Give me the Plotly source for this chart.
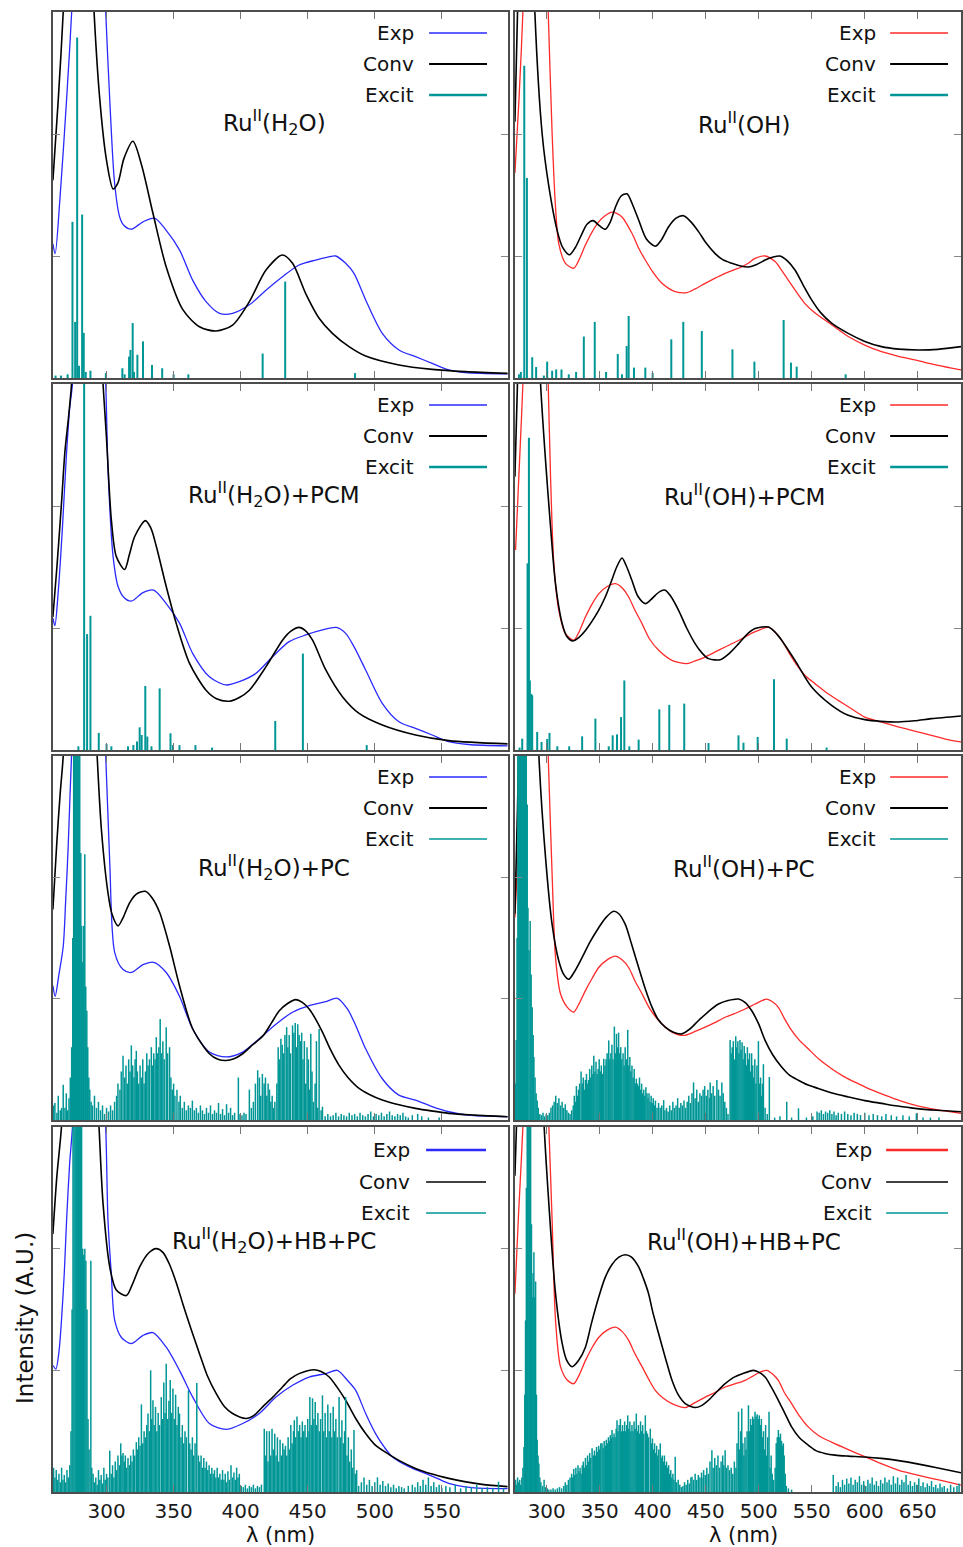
import plotly.graph_objects as go

# ------------------------------------------------------------------ data
# (wavelength nm, normalised intensity)

# --- Ru(II)(H2O)
conv_h2o = [(260,1.62),(264,2.28),(267.7,3.0),(271,4.0),(279,5.2),(287,4.0),(290.7,3.0),(295,2.28),(299.9,1.79),(304.9,1.55),(308.5,1.6),(313,1.8),(319.7,1.94),(326,1.75),(334.6,1.35),(344.5,0.91),(356.9,0.56),(369.3,0.42),(381.7,0.385),(394,0.434),(406.5,0.626),(418.9,0.885),(431.2,1.008),(438.7,0.94),(448.6,0.69),(458.5,0.49),(468.4,0.366),(480.8,0.257),(493.2,0.18),(518,0.107),(542.8,0.071),(567.6,0.052),(599,0.038)]
exp_h2o = [(260,1.10),(261.7,1.02),(265.2,1.46),(270.2,2.28),(274,3.0),(280,4.6),(288,5.0),(295,4.2),(299.4,3.0),(302.4,2.28),(306,1.6),(309.8,1.32),(313,1.25),(318.5,1.22),(327.2,1.28),(335.8,1.31),(344.5,1.21),(354.4,1.05),(364.3,0.80),(374.2,0.626),(384.2,0.53),(394,0.53),(406.5,0.60),(418.9,0.72),(431.2,0.83),(443.6,0.926),(456,0.967),(465,0.99),(470.9,1.0),(478.3,0.94),(484.5,0.858),(493.2,0.64),(505.6,0.366),(518,0.23),(530.4,0.175),(542.8,0.12),(555.2,0.066),(567.6,0.044),(599,0.033)]
exc_h2o = [(262,0.02),(266,0.02),(271,0.03),(274.6,1.28),(276.6,0.46),(278.1,2.79),(279.5,0.1),(281.8,1.34),(283,0.37),(284.5,0.05),(288,0.06),(299.5,0.04),(311.8,0.08),(313.5,0.03),(316.8,0.175),(317.8,0.23),(319.5,0.45),(320.5,0.05),(323,0.19),(327.2,0.30),(333.9,0.107),(341.5,0.08),(350,0.03),(361,0.03),(416.4,0.20),(433.2,0.79),(485.3,0.04)]

# --- Ru(II)(OH)
conv_oh = [(270,2.1),(273,3.2),(280,4.8),(286,4.0),(288.8,3.0),(295.7,2.0),(302,1.57),(309.8,1.21),(315,1.07),(321.5,1.01),(327,1.07),(333.4,1.186),(338,1.26),(343.7,1.29),(349.5,1.25),(355.3,1.22),(360,1.28),(364.8,1.40),(370,1.49),(375.7,1.51),(381,1.42),(386.7,1.295),(394,1.14),(402.4,1.08),(408,1.13),(415,1.24),(422,1.31),(429.1,1.33),(436,1.28),(443.2,1.20),(450,1.11),(458.9,1.02),(466,0.97),(474.6,0.94),(482,0.92),(490.3,0.91),(498,0.93),(506,0.967),(513,0.99),(520,1.0),(527,0.96),(534.2,0.885),(542,0.76),(549.9,0.64),(558,0.54),(568.7,0.45),(584.4,0.366),(600.1,0.30),(615.8,0.257),(632,0.237),(650.3,0.23),(669,0.235),(690.8,0.257)]
exp_oh = [(270,1.68),(273.8,2.28),(277.5,3.0),(282,4.5),(290,5.0),(297,4.2),(301.4,3.0),(305.1,2.0),(308.3,1.40),(311.4,1.10),(317.7,0.94),(325.5,0.90),(330,0.96),(336.5,1.09),(343,1.2),(349,1.28),(355,1.33),(361.6,1.36),(366,1.35),(371,1.32),(380.4,1.186),(387,1.06),(393,0.967),(400,0.87),(408.7,0.776),(415,0.735),(421.2,0.708),(432.2,0.70),(440,0.73),(449.5,0.776),(458,0.815),(468.3,0.858),(476,0.885),(484,0.91),(490,0.94),(496.5,0.98),(506,1.0),(515.4,0.954),(521,0.89),(528,0.80),(536,0.70),(543.6,0.61),(552,0.54),(562.4,0.475),(573,0.41),(584.4,0.34),(600,0.27),(615.8,0.216),(631,0.18),(647.2,0.148),(668,0.105),(690.8,0.066)]
exc_oh = [(273.8,0.03),(275.6,0.05),(278.8,2.56),(281.3,1.64),(286.3,0.17),(290,0.09),(297.3,0.02),(300.4,0.134),(305.1,0.06),(308.9,0.07),(313.9,0.07),(320.8,0.03),(327.7,0.05),(335,0.34),(345.3,0.46),(356,0.05),(367,0.197),(371,0.03),(375.4,0.262),(377.3,0.508),(382.3,0.085),(393,0.085),(399.9,0.04),(417.5,0.317),(428.8,0.46),(446.3,0.385),(475.2,0.235),(495.9,0.134),(523.5,0.475),(530.4,0.126),(535.8,0.093),(582,0.03)]

# --- Ru(II)(H2O)+PCM
conv_h2o_pcm = [(260,1.09),(263,1.5),(266.4,2.02),(269,2.45),(271.4,2.7),(273.9,3.0),(280,4.5),(290,4.5),(297.4,3.0),(299.9,2.57),(303.6,1.885),(307.3,1.585),(313.5,1.48),(317,1.6),(321,1.75),(328.9,1.88),(333,1.82),(337.1,1.67),(344.5,1.34),(351.9,1.04),(361.9,0.71),(374.2,0.49),(382,0.42),(391.6,0.40),(399,0.43),(406.5,0.49),(418.9,0.683),(431.2,0.90),(437,0.97),(443.6,1.005),(448,0.98),(453.6,0.90),(463.5,0.656),(475.9,0.437),(488.3,0.30),(505.6,0.205),(530.4,0.123),(555.2,0.077),(599,0.05)]
exp_h2o_pcm = [(260,1.08),(261.5,1.02),(264,1.3),(267,1.8),(270,2.4),(272.5,2.8),(274.6,3.0),(282,4.6),(292,4.8),(299.4,3.0),(301.1,2.3),(304.9,1.585),(308.6,1.34),(313,1.25),(318.5,1.22),(327.2,1.29),(335.1,1.31),(344.5,1.20),(354.4,1.04),(364.3,0.79),(376.7,0.60),(389.1,0.533),(399,0.56),(411.4,0.628),(423.8,0.765),(436.2,0.888),(448.6,0.943),(461,0.984),(471.4,1.005),(478.3,0.956),(484.5,0.847),(493.2,0.656),(505.6,0.383),(518,0.232),(530.4,0.178),(542.8,0.123),(555.2,0.068),(570,0.045),(599,0.033)]
exc_h2o_pcm = [(279,0.03),(283.3,3.6),(285.5,0.95),(288,1.10),(294.2,0.14),(300,0.05),(303.6,0.03),(316,0.03),(320,0.04),(322.7,0.07),(324.7,0.186),(326.2,0.123),(328.9,0.525),(330.4,0.11),(333.5,0.03),(339.6,0.505),(347.7,0.137),(349.5,0.04),(354.4,0.04),(366.3,0.04),(378.7,0.02),(425.8,0.238),(446.4,0.79),(494,0.04)]

# --- Ru(II)(OH)+PCM
conv_oh_pcm = [(270,2.24),(273,3.2),(280,4.8),(288,4.4),(294.2,3.0),(298.9,2.37),(303.6,1.83),(308.3,1.36),(314.6,1.035),(319,0.93),(324.6,0.893),(330,0.92),(336.5,0.98),(349,1.145),(355,1.25),(360,1.36),(366,1.50),(371,1.574),(375,1.51),(380.4,1.39),(386,1.26),(393,1.20),(398,1.23),(402.4,1.268),(407,1.30),(411.8,1.31),(417,1.26),(424.4,1.145),(432,1.0),(440.1,0.87),(446,0.80),(452.6,0.749),(463.6,0.74),(472,0.79),(480.9,0.87),(488,0.94),(496.5,0.995),(509.1,1.008),(515,0.97),(521.6,0.90),(534.2,0.735),(549.9,0.516),(568.7,0.366),(584.4,0.284),(600.1,0.249),(615,0.235),(631.5,0.23),(647,0.24),(662.9,0.257),(690.8,0.279)]
exp_oh_pcm = [(270.6,1.64),(274,2.3),(277.5,3.0),(283,4.5),(292,5.0),(298,4.0),(301.4,3.0),(303.6,2.24),(306.7,1.53),(311.4,1.145),(317.7,0.954),(325.5,0.90),(330,0.96),(336.5,1.09),(343,1.2),(349,1.28),(357,1.34),(364.8,1.363),(371,1.33),(377.3,1.254),(383,1.15),(389.9,1.036),(397,0.91),(405.6,0.817),(418.1,0.735),(432.2,0.708),(440,0.73),(449.5,0.762),(458,0.80),(468.3,0.844),(478,0.885),(487.1,0.926),(494,0.96),(499.7,0.98),(509.1,1.008),(515,0.97),(521.6,0.90),(529,0.79),(537.3,0.68),(545,0.60),(553,0.544),(564,0.47),(575,0.407),(587,0.34),(600.1,0.27),(615,0.23),(631.5,0.19),(647,0.155),(662.9,0.12),(676,0.09),(690.8,0.066)]
exc_oh_pcm = [(274.4,0.02),(276.9,0.093),(281.9,1.53),(283.2,2.56),(284.1,0.57),(285.4,0.46),(286.3,0.448),(291,0.148),(295.1,0.066),(300.4,0.09),(302.6,0.14),(310,0.03),(321.2,0.03),(333.4,0.112),(345.9,0.257),(358.5,0.03),(362.2,0.12),(366.3,0.128),(370.1,0.27),(373.2,0.57),(377.9,0.03),(386.7,0.085),(406.2,0.333),(415.6,0.37),(429.7,0.38),(452.6,0.057),(480.9,0.12),(485.6,0.06),(499,0.107),(514.4,0.58),(526.4,0.093),(564,0.02)]

# --- Ru(II)(H2O)+PC
conv_h2o_pc = [(260,1.735),(263,2.3),(265.5,2.7),(267.7,3.0),(272,4.2),(280,5.0),(288,4.2),(293,3.0),(296.2,2.39),(301.1,1.87),(304,1.7),(308.6,1.6),(312,1.66),(317.2,1.79),(322,1.86),(328.9,1.885),(334,1.83),(339.6,1.71),(347,1.434),(354.4,1.107),(364.3,0.75),(376.7,0.546),(383,0.5),(389.1,0.49),(395,0.505),(401.5,0.546),(409,0.62),(416.9,0.697),(423,0.8),(428.8,0.90),(435,0.96),(441.2,0.992),(446,0.97),(451.1,0.915),(456,0.83),(461,0.724),(467,0.58),(473.4,0.45),(480,0.35),(488.3,0.26),(496,0.21),(505.6,0.164),(518,0.125),(530.4,0.096),(542,0.075),(555.2,0.055),(575,0.04),(599,0.027)]
exp_h2o_pc = [(260,1.107),(261.7,1.02),(264.5,1.2),(267.7,1.43),(269.5,1.8),(271.4,2.25),(273.9,3.0),(281,4.6),(292,4.8),(299.4,3.0),(302.4,2.12),(306.1,1.38),(312.3,1.24),(318.5,1.216),(327.2,1.28),(335.1,1.30),(344.5,1.216),(354.4,1.02),(364.3,0.75),(376.7,0.56),(389.1,0.52),(401.5,0.56),(413.9,0.67),(426.3,0.79),(438.7,0.888),(451.1,0.943),(463.5,0.975),(472.1,1.003),(479.6,0.915),(485.8,0.779),(493.2,0.587),(505.6,0.34),(518,0.205),(530.4,0.164),(542.8,0.11),(555.2,0.068),(570,0.04),(599,0.027)]
exc_h2o_pc = [
    (260.5,0.12),(261.5,0.14),(263,0.06),(264,0.2),(265.5,0.08),(266.5,0.1),(267.7,0.29),(269,0.1),(270,0.22),(271,0.08),(272,0.18),(273,0.35),(274,0.6),
    (274.8,1.5),(275.5,3.5),(276.3,3.5),(277,3.5),(277.8,3.5),(278.5,3.5),(279.3,3.5),(280,3.2),(280.8,2.2),(281.5,1.6),(282.3,1.3),(283,1.6),(283.8,2.19),(284.5,1.1),(285.3,0.9),(286,0.6),(286.8,0.35),(287.5,0.25),(288.5,0.15),
    (289.5,0.12),(291,0.2),(292.5,0.1),(294,0.15),(295.5,0.08),(297,0.12),(298.5,0.05),(300,0.1),(301.5,0.07),(303,0.12),(304.5,0.08),(306,0.15),(307.5,0.2),
    (308.5,0.3),(310,0.25),(311,0.4),(312.3,0.53),(313.5,0.35),(314.5,0.45),(315.5,0.3),(316.5,0.5),(317.5,0.4),(318.5,0.615),(319.5,0.45),(320.5,0.35),(321.3,0.5),(322.2,0.57),(323,0.4),(324,0.3),(325,0.45),(326,0.35),(327,0.5),(328,0.3),(329,0.4),(330,0.55),(331,0.45),(332,0.5),(333.4,0.60),(334.3,0.45),(335.2,0.55),(336.2,0.5),(337.1,0.683),(338,0.55),(339,0.6),(340,0.833),(341,0.55),(342,0.65),(343,0.5),(344.5,0.765),(345.5,0.55),(347,0.6),(348,0.35),(349,0.25),(350,0.3),(351,0.2),(352.5,0.25),(354,0.15),(355,0.2),
    (356.5,0.1),(358,0.15),(359.5,0.08),(361,0.12),(362.5,0.1),(364,0.16),(365.5,0.08),(367,0.1),(368.5,0.06),(370,0.12),(371.5,0.08),(373,0.05),(374.5,0.1),(376,0.06),(377.5,0.12),(379,0.05),(380.5,0.08),(382,0.06),(383.5,0.14),(385,0.05),(386.5,0.09),(388,0.04),(389.5,0.13),(391,0.06),(392.5,0.1),(394,0.04),(395.5,0.06),
    (398.3,0.35),(399.5,0.05),(401,0.04),(402.5,0.06),(404,0.05),(406.5,0.25),(408,0.1),(409.5,0.15),(411,0.3),(412.7,0.41),(414,0.35),(415,0.2),(416.2,0.38),(417.5,0.3),(418.5,0.35),(419.5,0.2),(420.5,0.3),(421.5,0.25),(422.5,0.15),(423.5,0.2),(424.5,0.1),(425.5,0.15),(427,0.3),(428,0.6),(429,0.5),(430,0.67),(431,0.62),(432,0.55),(433,0.7),(434.3,0.765),(435.2,0.6),(436.2,0.7),(437.2,0.55),(438.7,0.78),(439.7,0.72),(440.7,0.8),(441.7,0.6),(442.6,0.79),(443.6,0.7),(444.6,0.65),(445.5,0.72),(446.5,0.5),(447.5,0.65),(448.5,0.3),(449.5,0.6),(450.5,0.5),(451.5,0.25),(452.3,0.71),(453.2,0.4),(454.2,0.15),(455.5,0.3),(456.5,0.65),(457.5,0.1),(458.5,0.75),(460,0.08),(461,0.11),
    (463,0.03),(465,0.05),(467,0.03),(469,0.04),(471,0.06),(473,0.03),(475,0.05),(477,0.04),(479,0.03),(481,0.06),(483,0.04),(485,0.05),(487,0.03),(489,0.06),(491,0.04),(493,0.03),(495,0.05),(497,0.07),(499,0.03),(501,0.05),(503,0.04),(505,0.06),(507,0.03),(509,0.05),(511,0.07),(513,0.04),(515,0.03),(517,0.05),(519,0.04),(521,0.06),(523,0.03),(525,0.02),(528,0.04),(532,0.05),(535,0.03),(540,0.02),(548,0.02)]

# --- Ru(II)(OH)+PC
conv_oh_pc = [(270,1.7),(272.5,2.6),(274,3.2),(280,4.8),(288,4.4),(292.6,3.0),(298.9,2.16),(305.1,1.61),(311.4,1.31),(316,1.2),(320.8,1.16),(326,1.22),(333.4,1.34),(341,1.47),(349,1.585),(356,1.67),(363.2,1.72),(368,1.7),(374.2,1.61),(380,1.45),(386.7,1.257),(393,1.08),(399.3,0.93),(405,0.83),(411.8,0.765),(419,0.725),(427.5,0.71),(435,0.75),(443.2,0.82),(452,0.89),(462,0.956),(471,0.985),(480.9,0.997),(487,0.97),(493.4,0.90),(500,0.79),(506,0.656),(513,0.54),(521.6,0.437),(529,0.37),(537.3,0.328),(546,0.29),(556.2,0.26),(570,0.22),(584.4,0.19),(600,0.16),(615.8,0.137),(631,0.115),(647.2,0.096),(668,0.08),(690.8,0.068)]
exp_oh_pc = [(270,1.67),(273.5,2.3),(277.5,3.0),(283,4.5),(292,5.0),(298,4.0),(301.4,3.0),(305.1,2.02),(308.3,1.34),(313,1.04),(319.3,0.93),(325.5,0.89),(330,0.95),(336.5,1.066),(343,1.17),(349,1.257),(357,1.32),(364.8,1.35),(371,1.32),(377.3,1.257),(383,1.15),(389.9,1.04),(397,0.92),(405.6,0.82),(418.1,0.724),(429.1,0.697),(440,0.73),(449.5,0.765),(458,0.80),(468.3,0.847),(478,0.88),(487.1,0.915),(496.5,0.956),(507.5,0.997),(513,0.975),(518.5,0.929),(524,0.84),(531,0.738),(538,0.66),(546.7,0.587),(557,0.5),(568.7,0.423),(580,0.36),(593.8,0.30),(606,0.25),(619,0.205),(633,0.16),(647.2,0.123),(668,0.085),(690.8,0.055)]
exc_oh_pc = [
    (270.5,0.3),(271.2,0.66),(272,1.5),(272.8,3.0),
    (273.5,3.5),(274.4,3.5),(275.3,3.5),(276.2,3.5),(277.1,3.5),(278,3.5),(278.9,3.5),(279.8,3.5),(280.7,3.3),(281.6,2.6),(282.3,1.75),(283.3,1.4),(284.4,1.64),(285.3,1.2),(286.3,0.93),(287.2,0.7),(287.9,0.52),(289,0.35),(290,0.22),(291,0.16),(292,0.1),
    (293.5,0.05),(295,0.04),(296.5,0.06),(298,0.03),(299.5,0.05),(301,0.04),(302.5,0.06),(304,0.1),(305.5,0.12),(307,0.15),(308.5,0.2),(310,0.14),(311.5,0.18),(313,0.12),(314.5,0.15),(316,0.1),(317.5,0.13),(319,0.08),(320.5,0.06),(322,0.05),(323.5,0.08),(325,0.12),
    (326,0.2),(327,0.15),(328,0.28),(329,0.2),(330,0.25),(331,0.3),(332.4,0.40),(333.5,0.3),(334.5,0.35),(335.5,0.25),(336.5,0.33),(337.5,0.38),(338.5,0.3),(339.5,0.33),(340.5,0.42),(341.5,0.35),(342.5,0.45),(343.5,0.38),(344.4,0.53),(345.5,0.4),(346.5,0.48),(347.5,0.38),(348.5,0.42),(349.5,0.5),(350.5,0.4),(351.5,0.45),(352.5,0.38),(353.8,0.505),(355,0.45),(356,0.5),(357,0.55),(358.5,0.656),(359.5,0.5),(360.5,0.55),(361.5,0.62),(362.5,0.5),(363.8,0.77),(364.8,0.55),(365.8,0.71),(366.8,0.6),(367.8,0.72),(368.8,0.55),(369.8,0.6),(370.8,0.5),(372,0.55),(373,0.45),(374,0.6),(375,0.5),(376.4,0.743),(377.4,0.45),(378.4,0.52),(379.4,0.4),(380.4,0.45),(381.5,0.35),(382.5,0.42),(383.5,0.3),(384.5,0.34),(385.5,0.3),(386.5,0.28),(387.5,0.35),(388.5,0.25),(389.5,0.3),(390.5,0.22),(391.5,0.25),(392.5,0.2),(393.5,0.27),(394.6,0.22),(395.5,0.18),(396.5,0.22),(397.5,0.15),(398.5,0.2),(399.5,0.14),(400.5,0.18),(401.5,0.12),(402.5,0.16),(404,0.1),(405.5,0.14),(407,0.1),(408.5,0.12),(410.3,0.164),(411.5,0.08),
    (413,0.1),(414.5,0.07),(416,0.12),(417.5,0.08),(419,0.15),(420.5,0.1),(422,0.12),(423.5,0.18),(425,0.1),(426.5,0.14),(428,0.12),(429.5,0.16),(431,0.1),(432.5,0.15),(434,0.2),(435.5,0.14),(437,0.22),(438.5,0.31),(440,0.18),(441.5,0.25),(443,0.15),(444.5,0.22),(446,0.2),(447.5,0.25),(449,0.28),(450.5,0.2),(452,0.25),(453.5,0.18),(454.2,0.31),(455.5,0.22),(457,0.28),(458.5,0.2),(460.5,0.33),(462,0.25),(463.5,0.2),(465.2,0.31),(466.5,0.22),(468,0.15),(469.5,0.1),(471,0.05),
    (473,0.66),(474,0.55),(475,0.6),(476,0.65),(477,0.5),(478.3,0.69),(479.3,0.6),(480.3,0.65),(481.3,0.55),(482.3,0.66),(483.3,0.58),(484.3,0.64),(485.3,0.5),(486.3,0.61),(487.3,0.55),(488.3,0.45),(489.3,0.6),(490.3,0.5),(491.3,0.55),(492.3,0.4),(493.3,0.55),(494.3,0.45),(495.3,0.35),(496.3,0.5),(497.3,0.3),(498.3,0.45),(499.7,0.65),(500.7,0.3),(501.7,0.35),(502.7,0.2),(503.5,0.3),(504.4,0.46),(506,0.1),(508,0.05),(510,0.355),
    (515,0.02),(520,0.03),(526.4,0.15),(531,0.02),(537.5,0.096),(545,0.02),(551,0.03),(555,0.07),(557,0.06),(559,0.08),(561,0.05),(563,0.07),(565,0.06),(567,0.08),(569,0.05),(571,0.07),(573,0.04),(575,0.06),(578,0.05),(581,0.07),(584,0.05),(587,0.04),(590,0.06),(593,0.05),(596,0.04),(600,0.06),(604,0.04),(608,0.05),(612,0.04),(616,0.03),(620,0.05),(625,0.04),(630,0.03),(636,0.04),(642,0.03),(648.7,0.055),(655,0.02),(662,0.02),(670,0.02)]

# --- Ru(II)(H2O)+HB+PC
conv_h2o_hb = [(260,2.12),(263,2.6),(266.4,3.0),(272,4.2),(280,5.0),(289,4.2),(294.4,3.0),(297.4,2.37),(302.4,1.85),(307.3,1.66),(314.8,1.615),(319,1.7),(324.7,1.85),(331,1.96),(337.1,2.0),(342,1.97),(347,1.87),(352,1.72),(356.9,1.546),(363,1.34),(369.3,1.137),(375,0.96),(381.7,0.81),(388,0.7),(394,0.645),(404,0.604),(410,0.63),(416.4,0.70),(424,0.78),(431.2,0.863),(437,0.93),(443.6,0.973),(454.8,1.005),(460,0.99),(466,0.945),(472,0.86),(478.3,0.754),(486,0.6),(493.2,0.48),(500,0.39),(505.6,0.344),(518,0.26),(530.4,0.194),(542,0.15),(555.2,0.112),(567,0.085),(580,0.063),(599,0.044)]
exp_h2o_hb = [(260.2,1.04),(262.2,1.01),(264.5,1.15),(266.4,1.41),(268.5,1.8),(270.2,2.23),(272.5,2.7),(274.6,3.0),(281,4.6),(292,4.8),(299.4,3.0),(301.1,2.23),(303.5,1.8),(306.1,1.41),(311.1,1.27),(318.5,1.22),(327.2,1.287),(334.6,1.31),(344.5,1.19),(354.4,1.0),(364.3,0.78),(376.7,0.563),(389.1,0.514),(401.5,0.563),(413.9,0.645),(426.3,0.78),(438.7,0.877),(451.1,0.945),(463.5,0.973),(472.1,1.0),(479.6,0.918),(485.8,0.836),(493.2,0.645),(500.6,0.48),(507,0.37),(513,0.29),(525.4,0.208),(537.8,0.153),(547,0.11),(555.2,0.071),(572.5,0.036),(599,0.027)]
exc_h2o_hb = [
    (260.5,0.2),(261.5,0.12),(262.5,0.18),(263.5,0.1),(264.5,0.15),(265.5,0.08),(266.5,0.2),(267.5,0.1),(268.5,0.14),(269.5,0.08),(270.5,0.18),(271.5,0.12),(272.6,0.22),(273.5,0.5),(274.3,1.5),
    (275,3.5),(275.8,3.5),(276.6,3.5),(277.4,3.5),(278.2,3.5),(279,3.5),(279.8,3.5),(280.6,3.5),(281.4,3.5),(282.2,2.0),(283,1.95),(283.8,2.0),(284.6,1.9),(285.4,1.5),(286.2,0.6),(287,0.35),(288.3,1.9),(289,0.2),
    (290,0.15),(291,0.08),(292,0.12),(293,0.06),(294,0.18),(295,0.1),(296,0.14),(297,0.07),(298,0.2),(299,0.1),(300,0.15),(301,0.12),(302.4,0.34),(303.5,0.15),(304.5,0.22),(305.5,0.12),(306.5,0.25),(307.5,0.18),(308.5,0.3),(309.5,0.22),(310.6,0.40),
    (311.5,0.3),(312.3,0.32),(313.2,0.25),(314,0.3),(315,0.2),(316,0.28),(317,0.22),(318,0.3),(319,0.25),(320,0.35),(321,0.3),(322.2,0.41),(323,0.35),(324,0.45),(325,0.38),(326,0.72),(327,0.4),(328,0.5),(329,0.45),(330,0.55),(330.9,0.645),(332,0.5),(332.9,1.0),(333.7,0.6),(334.6,0.754),(335.5,0.55),(336.5,0.7),(337.5,0.5),(338.5,0.65),(339.5,0.55),(340.8,0.78),(341.7,0.6),(342.7,0.9),(343.6,0.65),(344.5,1.055),(345.5,0.6),(346.5,0.75),(347.5,0.92),(348.5,0.65),(349.5,0.85),(350.5,0.6),(351.5,0.8),(352.5,0.55),(353.5,0.7),(354.4,0.645),(355.5,0.45),(356.5,0.55),(357.5,0.4),(358.5,0.5),(359.5,0.45),(361.1,0.836),(362,0.4),(363,0.35),(364,0.45),(365,0.3),(366,0.4),(367.3,0.896),(368.5,0.3),(369.5,0.25),(370.5,0.3),(371.5,0.2),(372.5,0.28),(373.5,0.2),(374.5,0.25),(375.5,0.18),(376.5,0.22),(377.5,0.15),(378.5,0.2),(379.5,0.15),(380.5,0.18),(381.5,0.12),(382.5,0.2),(383.5,0.12),(384.5,0.15),(385.5,0.1),(386.5,0.18),(387.5,0.1),(388.5,0.15),(389.5,0.08),(390.5,0.17),(391.5,0.1),(392.8,0.22),(394,0.12),(395,0.16),(396,0.1),(397,0.2),(398,0.12),(399,0.15),
    (400.5,0.05),(402,0.04),(403.5,0.06),(405,0.03),(406.5,0.05),(408,0.04),(409.5,0.06),(411,0.03),(412.5,0.05),(414,0.04),(415.5,0.06),
    (417.6,0.52),(418.5,0.3),(419.4,0.5),(420.4,0.25),(421.4,0.5),(422.4,0.3),(423.4,0.52),(424.4,0.35),(425.4,0.48),(426.4,0.3),(427.4,0.45),(428.4,0.25),(429.4,0.43),(430.4,0.3),(431.4,0.4),(432.4,0.35),(433.4,0.38),(434.4,0.3),(435.4,0.45),(436.4,0.35),(437.4,0.55),(438.4,0.4),(439.4,0.5),(440,0.59),(441,0.45),(442,0.62),(443,0.5),(444,0.55),(445,0.45),(446,0.58),(447,0.5),(448,0.55),(449,0.45),(450,0.6),(451,0.5),(451.6,0.78),(452.6,0.55),(453.6,0.77),(454.6,0.6),(455.6,0.74),(456.6,0.55),(457.6,0.65),(458.6,0.5),(459.6,0.6),(461,0.795),(462,0.5),(463,0.65),(464,0.45),(465,0.72),(466,0.5),(467,0.65),(468,0.45),(469,0.7),(470,0.5),(471,0.6),(472,0.45),(473.4,0.78),(474.5,0.45),(475.5,0.59),(476.5,0.4),(477.5,0.5),(478.3,0.78),(479.3,0.3),(480.3,0.45),(481.3,0.25),(482.5,0.35),(483.5,0.2),(484.5,0.51),(485.5,0.15),(486.5,0.18),
    (488,0.05),(490,0.08),(492,0.12),(494,0.06),(496,0.1),(498,0.05),(500,0.08),(502,0.12),(504,0.06),(506,0.09),(508,0.05),(510,0.07),(512,0.04),(514,0.06),(516,0.03),(518,0.05),(520,0.04),(522,0.03),(525,0.05),(528,0.06),(530,0.04),(532,0.08),(534,0.05),(536,0.1),(538,0.06),(540,0.12),(542,0.05),(544,0.08),(546,0.04),(548,0.06),(550,0.03),(553,0.05),(556,0.04),(560,0.06),(564,0.03),(568,0.05),(572,0.04),(576,0.06),(580,0.03),(584,0.04),(588,0.03),(592.3,0.085),(596,0.03)]

# --- Ru(II)(OH)+HB+PC
conv_oh_hb = [(270,2.6),(272.5,3.3),(280,5.0),(290,4.8),(297.3,3.05),(302,2.37),(308.3,1.63),(314.6,1.22),(319,1.08),(324,1.03),(330,1.08),(336.5,1.19),(342,1.38),(349,1.60),(355,1.76),(361.6,1.87),(368,1.93),(374.2,1.95),(380,1.93),(386.7,1.85),(391,1.76),(396.1,1.63),(400,1.48),(405.6,1.30),(412,1.1),(418.1,0.92),(424,0.8),(430.7,0.727),(440.1,0.694),(446,0.71),(452.6,0.754),(460,0.82),(468.3,0.89),(476,0.94),(484,0.97),(495,1.0),(500,0.985),(506,0.945),(512,0.86),(518.5,0.754),(525,0.64),(531,0.535),(538,0.45),(546.7,0.385),(554,0.34),(562.4,0.317),(572,0.303),(584.4,0.295),(600,0.288),(615.8,0.276),(632,0.258),(647.2,0.235),(668,0.2),(690.8,0.158)]
exp_oh_hb = [(270,1.63),(273.5,2.3),(277.5,3.0),(283,4.5),(292,5.0),(298,4.0),(302,3.0),(305.1,2.23),(308.3,1.41),(313,1.03),(319.3,0.92),(325.5,0.89),(330,0.95),(336.5,1.08),(343,1.19),(349,1.27),(357,1.33),(364.8,1.355),(371,1.32),(377.3,1.246),(383,1.14),(389.9,1.03),(396,0.93),(402.4,0.836),(410,0.77),(418.1,0.727),(430.7,0.694),(440,0.735),(449.5,0.78),(459,0.82),(468.3,0.863),(478,0.89),(487.1,0.918),(494,0.95),(499.7,0.978),(507.5,1.0),(513,0.97),(518.5,0.918),(524,0.82),(531,0.727),(538,0.63),(546.7,0.535),(557,0.46),(568.7,0.41),(584,0.35),(600.1,0.29),(615,0.235),(631.5,0.18),(647,0.145),(662.9,0.112),(677,0.085),(690.8,0.057)]
exc_oh_hb = [
    (270.6,0.1),(271.5,0.06),(272.5,0.12),(273.5,0.08),(274.5,0.1),(275.5,0.06),(276.5,0.12),(277.5,0.2),(278.5,0.37),(279.3,0.8),(280,1.41),(280.8,2.5),
    (281.6,3.5),(282.4,3.5),(283.2,3.5),(284,3.5),(284.8,3.5),(285.6,2.2),(286.3,1.6),(287.1,1.8),(287.9,1.97),(288.7,1.6),(289.5,1.73),(290.3,0.8),(291,0.43),(291.8,0.3),(292.6,0.235),(293.5,0.12),
    (294.5,0.08),(296,0.05),(297.5,0.1),(299,0.04),(300.5,0.03),(302,0.02),(304,0.02),(306,0.03),(308,0.02),(310,0.03),(312,0.04),(314,0.03),(316,0.05),(317.5,0.08),(319,0.06),(320.5,0.1),(322,0.12),
    (323.5,0.15),(324.5,0.12),(325.5,0.19),(326.5,0.14),(327.5,0.2),(328.5,0.15),(329.5,0.22),(330.5,0.17),(331.5,0.2),(332.5,0.15),(333.5,0.22),(334.5,0.25),(335.5,0.2),(336.5,0.28),(337.5,0.22),(338.5,0.3),(339.5,0.25),(340.5,0.32),(341.5,0.28),(342.8,0.36),(344,0.3),(345,0.34),(346,0.3),(347,0.37),(348,0.33),(349,0.38),(350,0.35),(351,0.4),(352.2,0.40),(353.2,0.36),(354.2,0.42),(355.2,0.38),(356.2,0.43),(357.2,0.4),(358.2,0.45),(359.2,0.42),(360,0.467),(361,0.44),(361.6,0.51),(362.5,0.45),(363.5,0.48),(364.5,0.45),(365.5,0.52),(366.3,0.59),(367.3,0.5),(368.3,0.55),(369.5,0.60),(370.5,0.5),(371.5,0.55),(372.5,0.5),(373.5,0.58),(374.5,0.5),(375.5,0.55),(376.4,0.63),(377.4,0.52),(378.4,0.58),(379.4,0.5),(380.4,0.55),(381.4,0.5),(382.4,0.58),(383.4,0.52),(384.5,0.645),(385.5,0.5),(386.5,0.55),(387.5,0.48),(388.5,0.58),(389.5,0.5),(390.5,0.55),(391.5,0.48),(393,0.63),(394,0.5),(395,0.48),(396,0.45),(397.7,0.52),(398.7,0.4),(399.7,0.44),(400.7,0.35),(401.7,0.4),(402.7,0.32),(403.7,0.38),(404.7,0.3),(405.7,0.35),(407.1,0.40),(408,0.28),(409,0.3),(410,0.25),(411,0.3),(412,0.22),(413,0.25),(414,0.2),(415,0.22),(416,0.15),(417,0.18),(418,0.12),(419,0.15),(420,0.1),(421.2,0.29),(422.5,0.08),(424,0.1),(425.5,0.06),(427,0.04),
    (428.5,0.05),(430,0.08),(431.5,0.06),(433,0.1),(434.5,0.07),(436,0.12),(437,0.126),(438.5,0.1),(440,0.15),(441.5,0.1),(443,0.14),(444.5,0.12),(446,0.16),(447.5,0.12),(448,0.18),(449.5,0.14),(451,0.2),(452.5,0.15),(454,0.25),(455.8,0.344),(457,0.2),(458.5,0.28),(460,0.22),(461.5,0.3),(463,0.2),(464.5,0.25),(466,0.3),(467,0.22),(468.3,0.344),(469.5,0.2),(471,0.22),(472.5,0.18),(474,0.2),(475.5,0.15),(477,0.25),(478.5,0.2),
    (479.5,0.4),(480.9,0.66),(482,0.35),(483,0.5),(484,0.686),(485,0.4),(486,0.3),(487,0.45),(488,0.35),(489,0.5),(490.3,0.713),(491.3,0.5),(492.3,0.6),(493.3,0.55),(494.3,0.62),(495.3,0.6),(496.5,0.66),(497.5,0.62),(498.5,0.64),(499.5,0.6),(500.5,0.63),(501.5,0.55),(502.5,0.6),(503.5,0.45),(504.5,0.5),(505.5,0.35),(506.5,0.55),(507.5,0.3),(508.5,0.45),(509.7,0.66),(510.7,0.2),(511.7,0.3),(512.7,0.15),(514,0.1),(515.5,0.2),(516.5,0.4),(517.5,0.45),(518.5,0.51),(519.5,0.45),(520.5,0.48),(521.5,0.42),(522.5,0.38),(523.2,0.40),(524,0.3),(525,0.15),(526,0.05),(528,0.03),(531,0.02),
    (570.3,0.14),(573,0.05),(575,0.08),(577,0.04),(579,0.1),(581,0.06),(583,0.11),(585,0.07),(587,0.12),(589,0.06),(591,0.1),(593,0.08),(595,0.13),(597,0.06),(599,0.09),(601,0.05),(603,0.1),(605,0.07),(607,0.12),(609,0.06),(611,0.09),(613,0.05),(615,0.1),(617,0.07),(619,0.12),(621,0.08),(623,0.1),(625,0.06),(627,0.13),(629,0.07),(631,0.12),(633,0.06),(635,0.1),(637,0.08),(639,0.14),(641,0.06),(643,0.09),(645,0.05),(647,0.08),(649,0.06),(651,0.11),(653,0.05),(655,0.08),(657,0.04),(659,0.07),(661,0.05),(663,0.09),(665,0.04),(667,0.06),(669,0.03),(671,0.07),(673,0.04),(675,0.05),(678,0.03),(681,0.06),(684,0.04),(687,0.05),(689,0.07)]

titles = ["Ru<sup>II</sup>(H<sub>2</sub>O)", "Ru<sup>II</sup>(OH)",
          "Ru<sup>II</sup>(H<sub>2</sub>O)+PCM", "Ru<sup>II</sup>(OH)+PCM",
          "Ru<sup>II</sup>(H<sub>2</sub>O)+PC", "Ru<sup>II</sup>(OH)+PC",
          "Ru<sup>II</sup>(H<sub>2</sub>O)+HB+PC", "Ru<sup>II</sup>(OH)+HB+PC"]
legend_labels = ["Exp", "Conv", "Excit"]
x_ticks_left = [300, 350, 400, 450, 500, 550]
x_ticks_right = [300, 350, 400, 450, 500, 550, 600, 650]
y_ticks = [1, 2]

# ------------------------------------------------------------------ styling / layout
W, H = 963, 1547
FONT = "DejaVu Sans"
BLUE, RED, TEAL, BLACK = "#2a2aff", "#ff2a2a", "#009696", "#000000"
FRAME = "#4d4d4d"

ROW_PX = [(12, 378), (384, 750), (756, 1120), (1127, 1492)]
COL_PX = [(53, 509), (516, 963)]
XRANGE = [[260, 599.3], [270, 690.8]]

panels = [
    (conv_h2o, exp_h2o, exc_h2o), (conv_oh, exp_oh, exc_oh),
    (conv_h2o_pcm, exp_h2o_pcm, exc_h2o_pcm), (conv_oh_pcm, exp_oh_pcm, exc_oh_pcm),
    (conv_h2o_pc, exp_h2o_pc, exc_h2o_pc), (conv_oh_pc, exp_oh_pc, exc_oh_pc),
    (conv_h2o_hb, exp_h2o_hb, exc_h2o_hb), (conv_oh_hb, exp_oh_hb, exc_oh_hb),
]
# per-row legend sample widths (exp, conv, excit)
LEG_W = [(1.3, 2.0, 2.6), (1.3, 2.0, 2.6), (1.3, 2.0, 1.3), (2.3, 1.6, 1.3)]
STICK_W = [2.0, 2.0, 1.5, 1.5]


def px2x(p):
    return p / W


def px2y(p):
    return 1 - p / H


fig = go.Figure()
layout = dict(width=W, height=H, margin=dict(l=0, r=0, t=0, b=0),
              paper_bgcolor="white", plot_bgcolor="white", showlegend=False,
              font=dict(family=FONT, size=20, color="#1a1a1a"))
annotations, shapes = [], []

for i, (conv, exp, exc) in enumerate(panels):
    row, col = divmod(i, 2)
    n = i + 1
    xs = "x" if n == 1 else f"x{n}"
    ys = "y" if n == 1 else f"y{n}"
    top, bot = ROW_PX[row]
    left, right = COL_PX[col]
    ecol = BLUE if col == 0 else RED

    layout["xaxis" if n == 1 else f"xaxis{n}"] = dict(
        domain=[px2x(left), px2x(right)], anchor=ys, range=XRANGE[col],
        tickvals=x_ticks_left if col == 0 else x_ticks_right,
        ticks="inside", ticklen=7, tickwidth=1, tickcolor="#777",
        showline=True, linecolor=FRAME, linewidth=1.6, mirror="ticks",
        showgrid=False, zeroline=False, showticklabels=(row == 3),
        tickfont=dict(family=FONT, size=20, color="#1a1a1a"))
    layout["yaxis" if n == 1 else f"yaxis{n}"] = dict(
        domain=[px2y(bot), px2y(top)], anchor=xs, range=[0, 3],
        tickvals=y_ticks, ticks="inside", ticklen=7, tickwidth=1, tickcolor="#888",
        showline=True, linecolor=FRAME, linewidth=1.6, mirror="ticks",
        showgrid=False, zeroline=False, showticklabels=False)

    fig.add_trace(go.Scatter(x=[p[0] for p in exp], y=[p[1] for p in exp], mode="lines",
                             line=dict(color=ecol, width=1.3, shape="spline", smoothing=0.8),
                             xaxis=xs, yaxis=ys))
    fig.add_trace(go.Scatter(x=[p[0] for p in conv], y=[p[1] for p in conv], mode="lines",
                             line=dict(color=BLACK, width=1.6, shape="spline", smoothing=0.8),
                             xaxis=xs, yaxis=ys))
    sx, sy = [], []
    for w, h in exc:
        sx += [w, w, None]
        sy += [0, h, None]
    fig.add_trace(go.Scatter(x=sx, y=sy, mode="lines", line=dict(color=TEAL, width=STICK_W[row]),
                             xaxis=xs, yaxis=ys))

    # panel title
    tx = 275 if col == 0 else 746
    ty = top + (113 if row == 3 else 111)
    annotations.append(dict(text=titles[i], xref="paper", yref="paper", x=px2x(tx), y=px2y(ty),
                            xanchor="center", yanchor="middle", showarrow=False,
                            font=dict(family=FONT, size=23, color="#111")))
    # legend
    offs = (23, 55, 86) if row == 3 else (21, 52, 83)
    if col == 0:
        txr = 413 if row == 3 else 417
        l0, l1 = (427, 487) if row == 3 else (430, 488)
    else:
        txr = 876 if row == 3 else 880
        l0, l1 = (888, 950) if row == 3 else (892, 950)
    lcols = [ecol, BLACK, TEAL]
    for k, lab in enumerate(legend_labels):
        yy = top + offs[k]
        annotations.append(dict(text=lab, xref="paper", yref="paper", x=px2x(txr), y=px2y(yy),
                                xanchor="right", yanchor="middle", showarrow=False,
                                font=dict(family=FONT, size=20, color="#111")))
        shapes.append(dict(type="line", xref="paper", yref="paper",
                           x0=px2x(l0), x1=px2x(l1), y0=px2y(yy), y1=px2y(yy),
                           line=dict(color=lcols[k], width=LEG_W[row][k])))

annotations.append(dict(text="λ (nm)", xref="paper", yref="paper", x=px2x(281), y=px2y(1535),
                        xanchor="center", yanchor="middle", showarrow=False,
                        font=dict(family=FONT, size=21, color="#111")))
annotations.append(dict(text="λ (nm)", xref="paper", yref="paper", x=px2x(745), y=px2y(1535),
                        xanchor="center", yanchor="middle", showarrow=False,
                        font=dict(family=FONT, size=21, color="#111")))
annotations.append(dict(text="Intensity (A.U.)", xref="paper", yref="paper", x=px2x(25), y=px2y(1318),
                        xanchor="center", yanchor="middle", textangle=-90, showarrow=False,
                        font=dict(family=FONT, size=23, color="#111")))

layout["annotations"] = annotations
layout["shapes"] = shapes
fig.update_layout(**layout)
fig.write_html("out.html")
